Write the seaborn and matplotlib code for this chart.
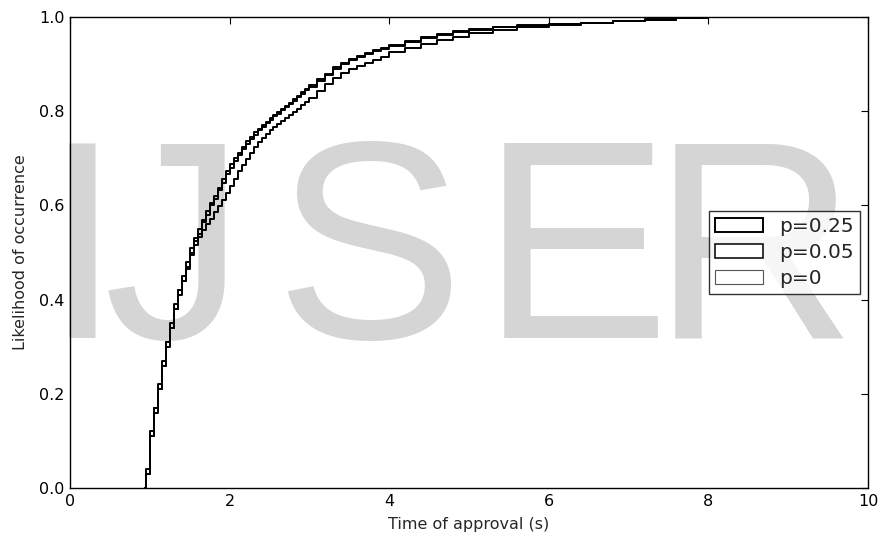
import matplotlib
matplotlib.use("Agg")
import matplotlib.pyplot as plt
from matplotlib.patches import Rectangle
import seaborn as sns
import pandas as pd

# ---- data ----
x_steep = [0.94, 0.95, 1.00, 1.05, 1.10, 1.15, 1.20, 1.25, 1.30, 1.35, 1.40, 1.45,
           1.50, 1.55, 1.60, 1.65, 1.70, 1.75, 1.80, 1.85, 1.90, 1.95, 2.00,
           2.05, 2.10, 2.15, 2.20, 2.25, 2.30, 2.35, 2.40, 2.45, 2.50,
           2.55, 2.60, 2.65, 2.70, 2.75, 2.80, 2.85, 2.90, 2.95, 3.00,
           3.1, 3.2, 3.3, 3.4, 3.5, 3.6, 3.7, 3.8, 3.9, 4.0,
           4.2, 4.4, 4.6, 4.8, 5.0, 5.3, 5.6, 6.0, 6.4, 6.8, 7.2, 7.6, 8.0, 10.0]

cdf_p025 = [0.0, 0.04, 0.12, 0.17, 0.22, 0.27, 0.31, 0.35, 0.39, 0.42, 0.45, 0.48,
            0.51, 0.53, 0.55, 0.57, 0.588, 0.605, 0.621, 0.638, 0.655, 0.672, 0.688,
            0.700, 0.712, 0.724, 0.736, 0.746, 0.755, 0.763, 0.770, 0.778, 0.785,
            0.792, 0.799, 0.805, 0.811, 0.818, 0.825, 0.832, 0.840, 0.847, 0.855,
            0.868, 0.880, 0.893, 0.903, 0.911, 0.918, 0.924, 0.930, 0.935, 0.940,
            0.949, 0.957, 0.964, 0.970, 0.975, 0.979, 0.982, 0.985, 0.988, 0.991, 0.994, 0.997, 1.0, 1.0]

cdf_p005 = [0.0, 0.03, 0.11, 0.17, 0.21, 0.26, 0.31, 0.34, 0.38, 0.42, 0.44, 0.47,
            0.50, 0.525, 0.54, 0.565, 0.58, 0.600, 0.614, 0.632, 0.648, 0.666, 0.680,
            0.695, 0.706, 0.720, 0.730, 0.742, 0.750, 0.760, 0.766, 0.775, 0.781,
            0.790, 0.795, 0.803, 0.808, 0.816, 0.822, 0.830, 0.836, 0.845, 0.851,
            0.865, 0.877, 0.889, 0.900, 0.908, 0.915, 0.922, 0.928, 0.933, 0.938,
            0.947, 0.955, 0.962, 0.968, 0.973, 0.978, 0.981, 0.985, 0.988, 0.991, 0.994, 0.997, 1.0, 1.0]

cdf_p0 = [0.0, 0.03, 0.11, 0.16, 0.21, 0.26, 0.30, 0.34, 0.38, 0.41, 0.44, 0.465,
          0.495, 0.515, 0.532, 0.548, 0.560, 0.572, 0.585, 0.598, 0.612, 0.626, 0.641,
          0.656, 0.672, 0.686, 0.699, 0.711, 0.723, 0.734, 0.744, 0.752, 0.760,
          0.767, 0.773, 0.779, 0.785, 0.791, 0.798, 0.805, 0.813, 0.820, 0.828,
          0.843, 0.857, 0.871, 0.881, 0.889, 0.896, 0.903, 0.909, 0.915, 0.926,
          0.935, 0.943, 0.951, 0.958, 0.965, 0.972, 0.978, 0.983, 0.988, 0.992, 0.995, 0.998, 1.0, 1.0]

series_labels = ["p=0.25", "p=0.05", "p=0"]
legend_edge_colors = ["#000000", "#111111", "#555555"]
legend_edge_widths = [1.4, 1.2, 0.8]

x_ticks = [0, 2, 4, 6, 8, 10]
y_ticks = [0.0, 0.2, 0.4, 0.6, 0.8, 1.0]

watermark_letters = ["I", "J", "S", "E", "R"]

# ---- figure ----
sns.set_style("white")
plt.rcParams['font.family'] = ['DejaVu Sans']

fig = plt.figure(figsize=(8.81, 5.40), dpi=100)
ax = fig.add_axes([70/881, 1-488/540, (868-70)/881, (488-17)/540])

letter_centers = [82, 174, 369, 575, 754]
for ch, cx in zip(watermark_letters, letter_centers):
    ax.text(cx/881, 1-338/540, ch, transform=fig.transFigure, fontsize=204,
            family="Liberation Sans", color="#d5d5d5", ha="center", va="baseline",
            zorder=0.5, clip_on=False)

frames = []
for lab, ys in zip(series_labels, [cdf_p025, cdf_p005, cdf_p0]):
    frames.append(pd.DataFrame({"x": x_steep, "y": ys, "series": lab}))
df = pd.concat(frames, ignore_index=True)

for lab in series_labels:
    sub = df[df["series"] == lab]
    sns.lineplot(data=sub, x="x", y="y", ax=ax, color="#000000", linewidth=1.4,
                 drawstyle="steps-post", estimator=None, sort=False, zorder=2)

ax.set_xlim(0, 10)
ax.set_ylim(0, 1.0)
ax.set_xticks(x_ticks)
ax.set_yticks(y_ticks)
ax.set_xticklabels([str(t) for t in x_ticks])
ax.set_yticklabels([f"{t:.1f}" for t in y_ticks])
ax.tick_params(direction="in", top=True, right=True, length=5, width=0.8,
               labelsize=11.5, colors="#000000", pad=4)
for sp in ax.spines.values():
    sp.set_color("black")
    sp.set_linewidth(1.0)
ax.set_xlabel("Time of approval (s)", fontsize=11.5, labelpad=6)
ax.set_ylabel("Likelihood of occurrence", fontsize=11.5, labelpad=8)

handles = [Rectangle((0, 0), 1, 1, facecolor="white", edgecolor=c, linewidth=w)
           for c, w in zip(legend_edge_colors, legend_edge_widths)]
leg = ax.legend(handles, series_labels, loc="center right", fontsize=14.5,
                frameon=True, fancybox=False, borderaxespad=0.4,
                handlelength=2.4, handleheight=0.7, handletextpad=0.8,
                labelspacing=0.35, borderpad=0.3)
leg.get_frame().set_edgecolor("black")
leg.get_frame().set_linewidth(1.0)

fig.savefig("out.png", dpi=100, facecolor="white")
